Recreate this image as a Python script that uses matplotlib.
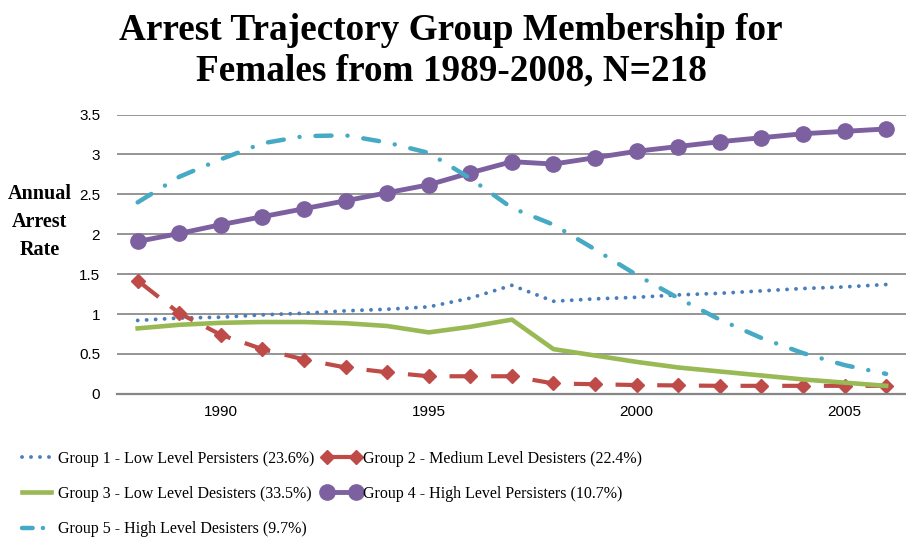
import matplotlib
matplotlib.use('Agg')
import matplotlib.pyplot as plt

years = list(range(1988, 2007))

group1 = [0.92, 0.95, 0.96, 0.99, 1.01, 1.04, 1.06, 1.09, 1.20, 1.36,
          1.16, 1.19, 1.21, 1.24, 1.26, 1.29, 1.32, 1.34, 1.37]
group2 = [1.42, 1.01, 0.74, 0.56, 0.43, 0.33, 0.27, 0.22, 0.22, 0.22,
          0.13, 0.12, 0.11, 0.105, 0.10, 0.10, 0.10, 0.10, 0.10]
group3 = [0.82, 0.865, 0.89, 0.90, 0.90, 0.885, 0.85, 0.77, 0.84, 0.93,
          0.56, 0.48, 0.40, 0.33, 0.28, 0.23, 0.18, 0.14, 0.10]
group4 = [1.91, 2.01, 2.12, 2.22, 2.32, 2.42, 2.52, 2.62, 2.77, 2.91,
          2.88, 2.96, 3.04, 3.10, 3.16, 3.21, 3.26, 3.29, 3.32]
group5 = [2.40, 2.72, 2.94, 3.14, 3.23, 3.24, 3.15, 3.02, 2.70, 2.33,
          2.12, 1.81, 1.49, 1.20, 0.93, 0.70, 0.51, 0.36, 0.25]

labels = ['Group 1 - Low Level Persisters (23.6%)',
          'Group 2 - Medium Level Desisters (22.4%)',
          'Group 3 - Low Level Desisters (33.5%)',
          'Group 4 - High Level Persisters (10.7%)',
          'Group 5 - High Level Desisters (9.7%)']

serif = ['Liberation Serif', 'DejaVu Serif']

fig = plt.figure(figsize=(9.06, 5.38), dpi=100)
ax = fig.add_axes([0.129, 0.268, 0.872, 0.519])

l1, = ax.plot(years, group1, color='#4a7ebb', lw=2.8, linestyle=(0, (0.01, 2.3)),
              dash_capstyle='round', label=labels[0])
l2, = ax.plot(years, group2, color='#be4b48', lw=3, linestyle=(0, (6.4, 3.6)),
              marker='D', markersize=7.5, label=labels[1])
l3, = ax.plot(years, group3, color='#98b954', lw=3.3, label=labels[2])
l4, = ax.plot(years, group4, color='#7d60a0', lw=3.5, marker='o',
              markersize=11, label=labels[3])
l5, = ax.plot(years, group5, color='#46aac5', lw=3.2, dash_capstyle='round',
              linestyle=(0, (3.6, 3.6, 0.01, 3.6)), label=labels[4])

ax.set_xlim(1987.5, 2006.5)
ax.set_ylim(0, 3.5)
ax.set_xticks([1990, 1995, 2000, 2005])
ax.set_yticks([0, 0.5, 1, 1.5, 2, 2.5, 3, 3.5])
ax.set_yticklabels(['0', '0.5', '1', '1.5', '2', '2.5', '3', '3.5'])
ax.grid(axis='y', color='#8c8c8c', lw=1.3)
ax.set_axisbelow(True)
for s in ['top', 'right', 'left']:
    ax.spines[s].set_visible(False)
ax.spines['bottom'].set_color('#868686')
ax.spines['bottom'].set_linewidth(1.6)
ax.tick_params(length=0, labelsize=11)
ax.tick_params(axis='y', pad=12)
ax.tick_params(axis='x', pad=8)
for t in ax.get_xticklabels() + ax.get_yticklabels():
    t.set_fontfamily('Liberation Sans')

fig.text(0.498, 0.976, 'Arrest Trajectory Group Membership for\nFemales from 1989-2008, N=218',
         ha='center', va='top', fontsize=26.8, fontweight='bold', family=serif,
         linespacing=1.2)
fig.text(0.044, 0.587, 'Annual\nArrest\nRate', ha='center', va='center',
         fontsize=14.5, fontweight='bold', family=serif, linespacing=1.55)

handles = [l1, l3, l5, l2, l4]
leg = fig.legend(handles, [h.get_label() for h in handles], ncol=2, numpoints=2,
                 loc='upper left', bbox_to_anchor=(0.012, 0.174), frameon=False,
                 prop={'family': serif, 'size': 11.5}, handlelength=2.4,
                 handletextpad=0.15, columnspacing=0.5, labelspacing=1.2,
                 borderaxespad=0)
# shorter dash-dot pattern so the legend sample shows dash, dot, dot
g5_handle = leg.legend_handles[2]
g5_handle.set_linestyle((0, (2.4, 2.3, 0.01, 2.3)))
g5_handle.set_dash_capstyle('round')

fig.savefig('out.png', dpi=100)
